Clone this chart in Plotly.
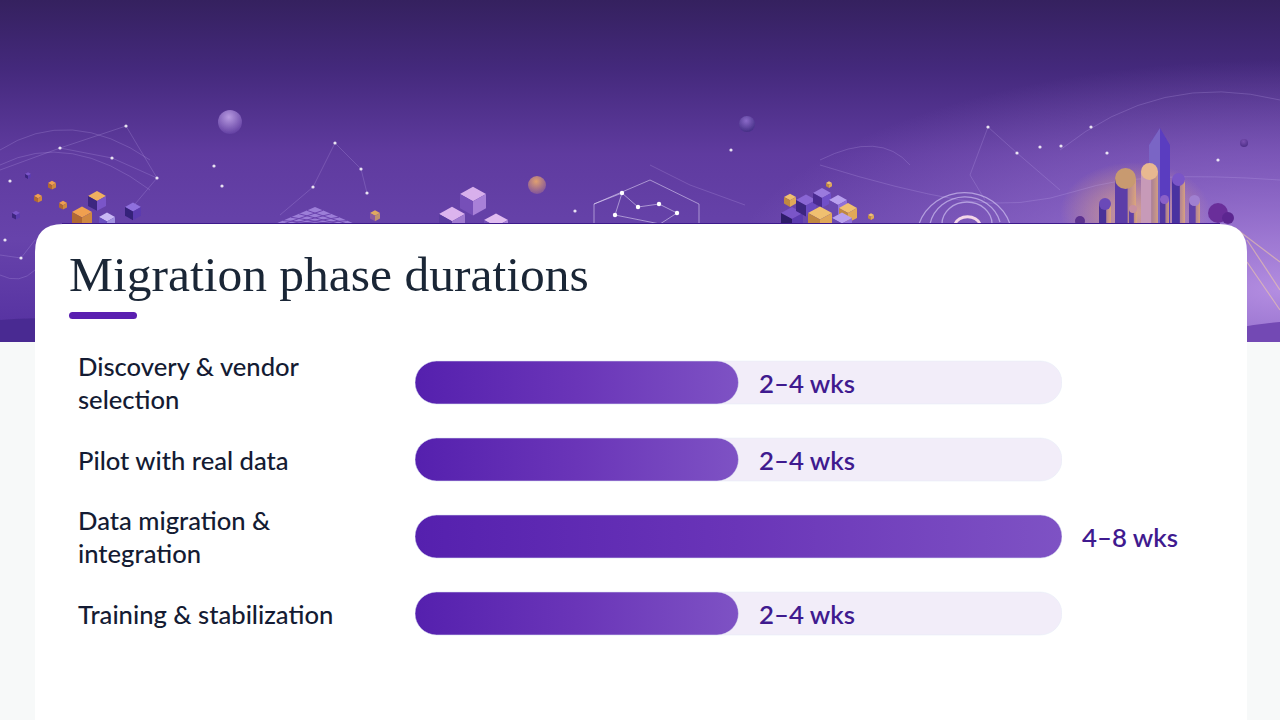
# Migration phase durations - horizontal bars under a decorative banner
import base64
import plotly.graph_objects as go

W, H = 1280, 720

phases = ["Discovery & vendor<br>selection", "Pilot with real data",
          "Data migration &<br>integration", "Training & stabilization"]
max_weeks = [4, 4, 8, 4]
duration_labels = ["2–4 wks", "2–4 wks", "4–8 wks", "2–4 wks"]
track_weeks = [8, 8, 8, 8]
title_text = "Migration phase durations"

# banner decoration
stars = [(126, 126), (60, 148), (112, 158), (10, 181), (157, 178), (214, 166), (335, 143), (361, 169), (222, 186),
         (313, 187), (367, 193), (575, 211), (731, 150), (988, 127), (1017, 153), (1040, 147), (1061, 146),
         (1107, 153), (1218, 160), (1091, 127), (5, 240), (21, 258)]
net_lines = [(0, 170, 60, 148, 126, 126), (60, 148, 112, 158, 157, 178), (126, 126, 157, 178, 130, 210),
             (335, 143, 313, 187, 280, 215), (335, 143, 361, 169, 367, 193), (988, 127, 1017, 153, 1060, 190),
             (988, 127, 970, 175, 985, 200), (650, 165, 690, 185, 745, 205), (0, 255, 21, 258, 35, 240)]
spheres = [(230, 122, 12, "#b79ae0", "#5d3a9e"), (537, 185, 9, "#e0a070", "#7b4f9e"), (747, 124, 8, "#8a6ac8", "#3f2a80"),
           (1244, 143, 4, "#7a50b0", "#4a2c85")]
# x, y, size, top, left, right
cubes = [(97, 196, 9, "#f0b060", "#3c2580", "#7a55c8"), (133, 207, 8, "#8f70dd", "#35207a", "#5c3bb0"),
         (82, 212, 10, "#f0a050", "#b06830", "#d08840"), (107, 217, 8, "#c9b8f5", "#6a50c0", "#a090e0"),
         (63, 203, 4, "#f0a050", "#b06830", "#d08840"), (38, 196, 4, "#f0a050", "#b06830", "#d08840"),
         (52, 183, 4, "#f0a050", "#b06830", "#d08840"), (16, 213, 4, "#7a55c8", "#3c2580", "#5c3bb0"),
         (28, 174, 3, "#7a55c8", "#3c2580", "#5c3bb0"), (375, 213, 5, "#e0a860", "#8a5aa0", "#c09070"),
         (473, 194, 13, "#d8b0ec", "#7650b8", "#a880d8"), (452, 214, 13, "#dcb4ee", "#5a3aa0", "#a07ad0"),
         (496, 220, 12, "#e0bcf0", "#7650b8", "#a880d8"),
         (792, 213, 11, "#7a55c8", "#2f1b6a", "#5c3bb0"), (806, 200, 10, "#8a66d4", "#3c2580", "#6a48c0"),
         (822, 193, 9, "#9a7ade", "#4a2c90", "#7050c8"), (838, 200, 9, "#b8a0ee", "#6a4ab0", "#9070d8"),
         (848, 208, 9, "#f0c070", "#c08840", "#e0a858"), (820, 213, 12, "#f0c070", "#c08840", "#e0a858"),
         (842, 218, 10, "#b8a0ee", "#6a4ab0", "#9070d8"), (790, 197, 6, "#f0c070", "#c08840", "#e0a858"),
         (829, 183, 3, "#f0c070", "#c08840", "#e0a858"), (871, 215, 3, "#f0c070", "#c08840", "#e0a858")]
# x, width, top y, roof colour, body colour
towers = [(1099, 12, 198, "#6a48b8", "#4a3098"), (1115, 21, 168, "#c89a70", "#5c3ea8"), (1129, 8, 205, "#c890a0", "#6040a8"),
          (1141, 17, 163, "#e8b890", "#c79ab8"), (1172, 13, 173, "#7a55c8", "#4a30a0"), (1189, 11, 195, "#a080d0", "#6040a8"),
          (1160, 9, 195, "#8a60c8", "#5238a0")]


def cube(x, y, s, top, left, right):
    h = s * 0.55
    return (f'<polygon points="{x},{y-h} {x+s},{y} {x},{y+h} {x-s},{y}" fill="{top}"/>'
            f'<polygon points="{x-s},{y} {x},{y+h} {x},{y+h+s*1.1} {x-s},{y+s*1.1}" fill="{left}"/>'
            f'<polygon points="{x+s},{y} {x},{y+h} {x},{y+h+s*1.1} {x+s},{y+s*1.1}" fill="{right}"/>')


parts = ['<svg xmlns="http://www.w3.org/2000/svg" width="1280" height="342" viewBox="0 0 1280 342"><defs>'
         '<linearGradient id="sky" x1="0" y1="0" x2="0" y2="1">'
         '<stop offset="0" stop-color="#35215f"/><stop offset="0.2" stop-color="#44297c"/>'
         '<stop offset="0.45" stop-color="#5f3b9f"/><stop offset="0.7" stop-color="#6743ab"/>'
         '<stop offset="1" stop-color="#5430a0"/></linearGradient>'
         '<radialGradient id="side"><stop offset="0" stop-color="#b892e4" stop-opacity="0.95"/>'
         '<stop offset="0.55" stop-color="#a27cd8" stop-opacity="0.45"/>'
         '<stop offset="1" stop-color="#a27cd8" stop-opacity="0"/></radialGradient>'
         '<radialGradient id="glow"><stop offset="0" stop-color="#f5b878" stop-opacity="0.7"/>'
         '<stop offset="1" stop-color="#f5b878" stop-opacity="0"/></radialGradient>'
         '<linearGradient id="gold" x1="0" y1="0" x2="1" y2="0"><stop offset="0" stop-color="#6a4ab0"/>'
         '<stop offset="1" stop-color="#e0a878"/></linearGradient>'
         '<filter id="soft"><feGaussianBlur stdDeviation="0.6"/></filter></defs>'
         '<rect width="1280" height="342" fill="url(#sky)"/>'
         '<ellipse cx="1280" cy="290" rx="560" ry="230" fill="url(#side)"/>'
         '<ellipse cx="1135" cy="212" rx="75" ry="50" fill="url(#glow)"/>'
         '<g filter="url(#soft)">']
parts.append('<path d="M0 320 Q60 314 130 328 L130 342 L0 342 Z" fill="#4a2a92"/>'
             '<path d="M1180 342 Q1230 326 1280 322 L1280 342 Z" fill="#7348b4"/>')
parts.append('<g fill="none" stroke="#c8b0f0" stroke-opacity="0.22" stroke-width="1">')
for x1, y1, x2, y2, x3, y3 in net_lines:
    parts.append(f'<polyline points="{x1},{y1} {x2},{y2} {x3},{y3}"/>')
parts.append('<path d="M0 150 Q70 105 150 160"/><path d="M1060 150 Q1160 70 1280 100"/>'
             '<path d="M0 165 Q70 130 150 190"/><path d="M0 275 Q20 285 35 270"/>'
             '<path d="M820 165 Q900 190 960 200 T1080 190 T1280 180"/>'
             '<path d="M820 160 Q880 130 910 165"/></g>')
parts.append('<path d="M1235 228 L1280 262 M1247 240 L1280 290 M1247 262 L1280 310" stroke="#f5d0a0" stroke-opacity="0.55" stroke-width="1.2"/>')
# hexagon network
parts.append('<g fill="none" stroke="#e6dcf8" stroke-opacity="0.55" stroke-width="1">'
             '<polygon points="594,204 650,180 699,204 699,240 650,250 594,240"/>'
             '<polyline points="594,204 622,193 638,207 659,204 677,213 660,224 615,215 622,193"/></g>')
for x, y in [(622, 193), (638, 207), (615, 215), (659, 204), (677, 213)]:
    parts.append(f'<circle cx="{x}" cy="{y}" r="2.2" fill="#ffffff"/>')
# swirl
parts.append('<g fill="none" stroke="#dcd0fa" stroke-opacity="0.6" stroke-width="1.3">'
             '<path d="M919 224 A48 46 0 0 1 1010 224"/><path d="M930 224 A36 34 0 0 1 1000 222"/>'
             '<path d="M942 224 A25 22 0 0 1 992 224"/></g>'
             '<path d="M955 224 A13 10 0 0 1 980 224" fill="none" stroke="#f3d6e8" stroke-width="3"/>')
for x, y, r, c1, c2 in spheres:
    parts.append(f'<radialGradient id="s{x}" cx="0.45" cy="0.3" r="0.75"><stop offset="0" stop-color="{c1}"/>'
                 f'<stop offset="1" stop-color="{c2}"/></radialGradient><circle cx="{x}" cy="{y}" r="{r}" fill="url(#s{x})"/>')
for x, y, s, top, left, right in cubes:
    parts.append(cube(x, y, s, top, left, right))
# paving grid
parts.append('<polygon points="315,207 355,224 275,224" fill="#a688e0" fill-opacity="0.85"/>')
parts.append('<g stroke="#6a43ae" stroke-width="1">' + "".join(
    f'<line x1="{315 + i * 8}" y1="{207 + i * 3.4}" x2="{315 + i * 8 - 40}" y2="224"/>'
    f'<line x1="{315 - i * 8}" y1="{207 + i * 3.4}" x2="{315 - i * 8 + 40}" y2="224"/>' for i in range(1, 5)) + '</g>')
# city
parts.append('<polygon points="1149,145 1160,128 1170,145 1170,226 1149,226" fill="#5a3cc0"/>'
             '<polygon points="1149,145 1160,128 1160,226 1149,226" fill="#8f80c8" fill-opacity="0.6"/>')
for x, w, y, roof, body in towers:
    parts.append(f'<rect x="{x}" y="{y + w / 2}" width="{w}" height="{226 - y}" fill="url(#gold)" fill-opacity="0.85"/>'
                 f'<rect x="{x}" y="{y + w / 2}" width="{w * 0.6}" height="{226 - y}" fill="{body}"/>'
                 f'<ellipse cx="{x + w / 2}" cy="{y + w / 2}" rx="{w / 2}" ry="{w / 2}" fill="{roof}"/>')
parts.append('<circle cx="1218" cy="213" r="10" fill="#6a2f9a"/><circle cx="1228" cy="218" r="6" fill="#5c2890"/>'
             '<circle cx="1080" cy="221" r="5" fill="#5c3090"/>')
for x, y in stars:
    parts.append(f'<circle cx="{x}" cy="{y}" r="1.6" fill="#ffffff" fill-opacity="0.85"/>')
parts.append('</g><rect x="62" y="223" width="1158" height="1" fill="#3d1a8c"/></svg>')
banner = "data:image/svg+xml;base64," + base64.b64encode("".join(parts).encode()).decode()


def px(x):
    return x / W


def py(y):
    return 1 - y / H


def round_rect(x0, y0, x1, y1, r_top, r_bottom=0):
    return (f"M{px(x0)} {py(y1 - r_bottom)} L{px(x0)} {py(y0 + r_top)} "
            f"Q{px(x0)} {py(y0)} {px(x0 + r_top)} {py(y0)} L{px(x1 - r_top)} {py(y0)} "
            f"Q{px(x1)} {py(y0)} {px(x1)} {py(y0 + r_top)} L{px(x1)} {py(y1 - r_bottom)} "
            f"Q{px(x1)} {py(y1)} {px(x1 - r_bottom)} {py(y1)} L{px(x0 + r_bottom)} {py(y1)} "
            f"Q{px(x0)} {py(y1)} {px(x0)} {py(y1 - r_bottom)} Z")


fig = go.Figure()
fig.add_trace(go.Bar(y=phases, x=track_weeks, orientation="h", width=0.558, hoverinfo="skip",
                     marker=dict(color="#f2edf9"), showlegend=False))
fig.add_trace(go.Bar(y=phases, x=max_weeks, orientation="h", width=0.558, hoverinfo="skip",
                     marker=dict(color="#6a35b8"), showlegend=False))

annotations = [dict(text=title_text, xref="paper", yref="paper", x=px(67), y=py(274), xanchor="left", yanchor="middle",
                    showarrow=False, font=dict(family="Liberation Serif", size=49.5, color="#1a2636"))]
for name, weeks, label in zip(phases, max_weeks, duration_labels):
    annotations.append(dict(text=name, xref="paper", yref="y", x=px(76), y=name, xanchor="left", yanchor="middle",
                            align="left", showarrow=False,
                            font=dict(family="Lato", size=25.6, weight=500, color="#141b33")))
    annotations.append(dict(text=label, xref="x", yref="y", x=weeks, y=name, xanchor="left", yanchor="middle",
                            xshift=18, showarrow=False,
                            font=dict(family="Lato", size=25.8, weight=600, color="#3f1a8f")))

fig.update_layout(
    width=W, height=H, autosize=False, barmode="overlay",
    margin=dict(l=0, r=0, t=0, b=0),
    paper_bgcolor="#f7f9f9", plot_bgcolor="rgba(0,0,0,0)",
    images=[dict(source=banner, xref="paper", yref="paper", x=0, y=1, sizex=1, sizey=342 / H,
                 xanchor="left", yanchor="top", sizing="stretch", layer="below")],
    shapes=[dict(type="path", xref="paper", yref="paper", path=round_rect(35, 224, 1247, 760, 28),
                 fillcolor="#ffffff", line=dict(width=0), layer="below"),
            dict(type="path", xref="paper", yref="paper", path=round_rect(69, 312, 137, 319, 3.5, 3.5),
                 fillcolor="#5a1fb0", line=dict(width=0), layer="below")],
    annotations=annotations,
    xaxis=dict(range=[0, 8], domain=[px(415), px(1062)], visible=False, fixedrange=True),
    yaxis=dict(type="category", categoryorder="array", categoryarray=phases, autorange=False, range=[3.5, -0.5],
               domain=[py(652), py(344)], visible=False, fixedrange=True),
)

# plotly bars have no gradient fill or pill ends, so both get added to the drawn svg
post_script = """
document.body.style.margin = '0';
var gd = document.getElementById('{plot_id}');
var defs = gd.querySelector('.main-svg defs');
var ns = 'http://www.w3.org/2000/svg';
var grad = document.createElementNS(ns, 'linearGradient');
grad.setAttribute('id', 'barGrad');
[['0', '#5520ae'], ['0.5', '#6a35b8'], ['1', '#7e52c4']].forEach(function (s) {
  var stop = document.createElementNS(ns, 'stop');
  stop.setAttribute('offset', s[0]);
  stop.setAttribute('stop-color', s[1]);
  grad.appendChild(stop);
});
defs.appendChild(grad);
var traces = gd.querySelectorAll('.barlayer .trace');
traces.forEach(function (tr, i) {
  tr.querySelectorAll('path').forEach(function (p) {
    var b = p.getBBox();
    var r = b.height / 2;
    p.setAttribute('d', 'M' + (b.x + r) + ',' + b.y + 'H' + (b.x + b.width - r) +
      'A' + r + ',' + r + ' 0 0 1 ' + (b.x + b.width - r) + ',' + (b.y + b.height) +
      'H' + (b.x + r) + 'A' + r + ',' + r + ' 0 0 1 ' + (b.x + r) + ',' + b.y + 'Z');
    if (i === 1) p.style.fill = 'url(#barGrad)';
  });
});
"""
fig.write_html("out.html", post_script=post_script, config=dict(displayModeBar=False))
